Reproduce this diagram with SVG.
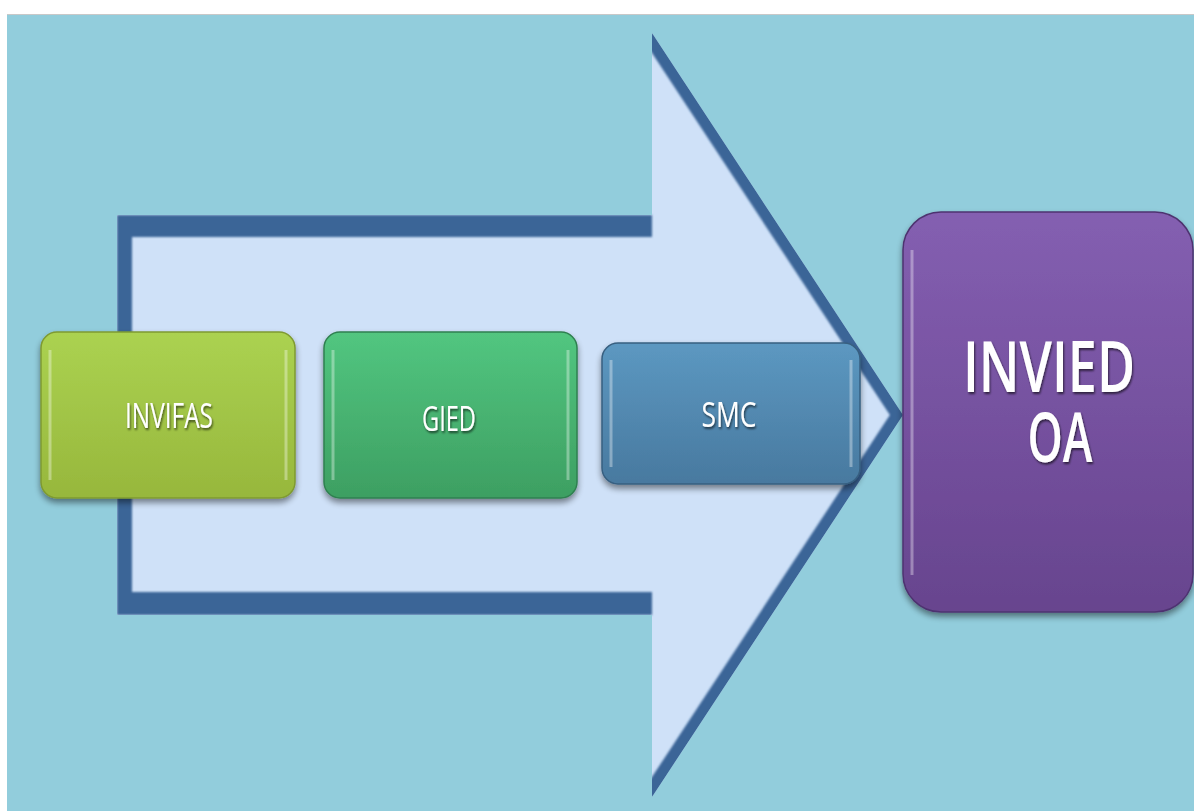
<svg xmlns="http://www.w3.org/2000/svg" width="1194" height="811" viewBox="0 0 1194 811">
<style>
.lbl{font-family:"Open Sans","Noto Sans","Liberation Sans",sans-serif;fill:#ffffff;text-anchor:middle;filter:url(#ts)}
.big{font-family:"Open Sans","Noto Sans","Liberation Sans",sans-serif;font-weight:600;fill:#ffffff;text-anchor:middle;filter:url(#ts)}
.band{fill:#3b6597}
.hl{fill:none;stroke:#ffffff;stroke-opacity:0.35;stroke-width:3}
</style>
<defs>
<filter id="ds" x="-10%" y="-10%" width="120%" height="130%">
<feGaussianBlur in="SourceAlpha" stdDeviation="3"/>
<feOffset dx="0" dy="4" result="b"/>
<feComponentTransfer><feFuncA type="linear" slope="0.45"/></feComponentTransfer>
<feMerge><feMergeNode/><feMergeNode in="SourceGraphic"/></feMerge>
</filter>
<filter id="ts" x="-25%" y="-50%" width="150%" height="200%">
<feGaussianBlur in="SourceAlpha" stdDeviation="1"/>
<feOffset dx="1" dy="2"/>
<feComponentTransfer><feFuncA type="linear" slope="0.6"/></feComponentTransfer>
<feMerge><feMergeNode/><feMergeNode in="SourceGraphic"/></feMerge>
</filter>
<filter id="blur1"><feGaussianBlur stdDeviation="0.8"/></filter>
<linearGradient id="gY" x1="0" y1="0" x2="0" y2="1"><stop offset="0" stop-color="#abd251"/><stop offset="1" stop-color="#97b73c"/></linearGradient>
<linearGradient id="gG" x1="0" y1="0" x2="0" y2="1"><stop offset="0" stop-color="#52c680"/><stop offset="1" stop-color="#3d9f62"/></linearGradient>
<linearGradient id="gB" x1="0" y1="0" x2="0" y2="1"><stop offset="0" stop-color="#5c98c1"/><stop offset="1" stop-color="#48799f"/></linearGradient>
<linearGradient id="gP" x1="0" y1="0" x2="0" y2="1"><stop offset="0" stop-color="#845fb1"/><stop offset="1" stop-color="#67448e"/></linearGradient>
<clipPath id="arrowClip"><polygon points="117,215 652,215 652,33 903,415 652,797 652,615 117,615"/></clipPath>
</defs>
<rect x="0" y="0" width="1194" height="811" fill="#ffffff"/>
<rect x="7" y="14" width="1187" height="797" fill="#92cddc"/>
<line x1="7" y1="14.5" x2="1194" y2="14.5" stroke="#c8c8c8" stroke-width="1"/>
<g id="arrow">
<polygon points="117,215 652,215 652,33 903,415 652,797 652,615 117,615" fill="#cfe1f8"/>
<g clip-path="url(#arrowClip)" filter="url(#blur1)">
<rect class="band" x="117" y="215" width="535" height="22"/>
<rect class="band" x="117" y="215" width="15" height="400"/>
<rect class="band" x="117" y="592" width="535" height="23"/>
<polyline points="652,33 903,415 652,797" fill="none" stroke="#3b6597" stroke-width="22" stroke-linejoin="miter"/>
</g>
</g>
<g id="node-invifas" filter="url(#ds)">
<rect x="41" y="332" width="254" height="166" rx="16" fill="url(#gY)" stroke="#7f9a30" stroke-width="1.5"/>
<path class="hl" d="M50,350 L50,480"/>
<path class="hl" d="M286,350 L286,480" stroke-opacity="0.2"/>
<text class="lbl" x="169" y="428" font-size="34" textLength="88" lengthAdjust="spacingAndGlyphs">INVIFAS</text>
</g>
<g id="node-gied" filter="url(#ds)">
<rect x="324" y="332" width="253" height="166" rx="16" fill="url(#gG)" stroke="#2f8050" stroke-width="1.5"/>
<path class="hl" d="M333,350 L333,480"/>
<path class="hl" d="M568,350 L568,480" stroke-opacity="0.2"/>
<text class="lbl" x="449" y="431" font-size="34" textLength="54" lengthAdjust="spacingAndGlyphs">GIED</text>
</g>
<g id="node-smc" filter="url(#ds)">
<rect x="602" y="343" width="258" height="141" rx="16" fill="url(#gB)" stroke="#375f80" stroke-width="1.5"/>
<path class="hl" d="M611,360 L611,467"/>
<path class="hl" d="M851,360 L851,467" stroke-opacity="0.2"/>
<text class="lbl" x="729" y="427" font-size="35" textLength="55" lengthAdjust="spacingAndGlyphs">SMC</text>
</g>
<g id="node-invied-oa" filter="url(#ds)">
<rect x="903" y="212" width="290" height="400" rx="38" fill="url(#gP)" stroke="#4e3370" stroke-width="1.5"/>
<path class="hl" d="M912,250 L912,575"/>
<text class="big" x="1049" y="392" font-size="70" textLength="172" lengthAdjust="spacingAndGlyphs">INVIED</text>
<text class="big" x="1060" y="462" font-size="68" textLength="65" lengthAdjust="spacingAndGlyphs">OA</text>
</g>
<g id="connectors"/>
</svg>
